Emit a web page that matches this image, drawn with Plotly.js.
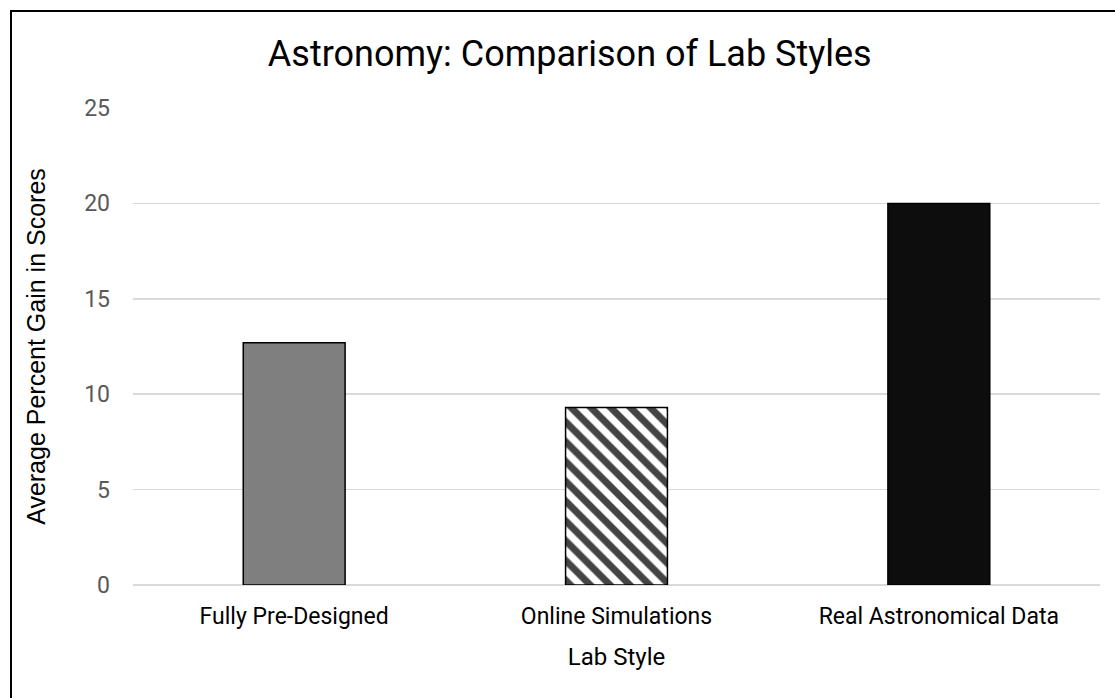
<!DOCTYPE html>
<html>
<head>
<meta charset="utf-8">
<script src="https://cdn.plot.ly/plotly-3.0.1.min.js"></script>
<style>
  html, body { margin: 0; padding: 0; background: #fff; overflow: hidden; }
  #wrap { position: relative; width: 1115px; height: 698px; }
  #chart { position: absolute; left: 0; top: 0; width: 1115px; height: 698px; }
  #frame { position: absolute; left: 10px; top: 10px; width: 1200px; height: 800px;
           border-left: 2px solid #000; border-top: 2px solid #000; pointer-events: none; }
</style>
</head>
<body>
<div id="wrap">
  <div id="chart"></div>
  <div id="frame"></div>
</div>
<script>
const categories = ["Fully Pre-Designed", "Online Simulations", "Real Astronomical Data"];
const gains = [12.7, 9.3, 20.0];
const yTickVals = [0, 5, 10, 15, 20, 25];

const trace = {
  type: "bar",
  x: categories,
  y: gains,
  marker: {
    color: ["#7f7f7f", "#ffffff", "#0d0d0d"],
    line: { color: "#000000", width: 1.5 },
    pattern: {
      shape: ["", "\\", ""],
      fgcolor: "#000000",
      fgopacity: 1,
      size: 14,
      solidity: 0.5,
      fillmode: "overlay"
    }
  },
  hoverinfo: "x+y"
};

const layout = {
  width: 1115,
  height: 698,
  margin: { l: 133, r: 15, t: 108, b: 113 },
  paper_bgcolor: "rgba(0,0,0,0)",
  plot_bgcolor: "#ffffff",
  showlegend: false,
  bargap: 0.684,
  title: {
    text: "Astronomy: Comparison of Lab Styles",
    font: { family: "Roboto, 'Liberation Sans', sans-serif", size: 36, color: "#000000" },
    x: 0.511, xref: "container", xanchor: "center",
    y: 0.924, yref: "container", yanchor: "middle"
  },
  xaxis: {
    type: "category",
    showgrid: false,
    showline: false,
    zeroline: false,
    ticks: "",
    ticklabelstandoff: 15,
    tickfont: { family: "Roboto, 'Liberation Sans', sans-serif", size: 23, color: "#000000" },
    title: {
      text: "Lab Style",
      font: { family: "Roboto, 'Liberation Sans', sans-serif", size: 24, color: "#000000" },
      standoff: 19
    }
  },
  yaxis: {
    range: [0, 25],
    tickvals: yTickVals,
    ticktext: yTickVals.map(String),
    showgrid: true,
    gridcolor: "#d9d9d9",
    gridwidth: 1.5,
    zeroline: true,
    zerolinecolor: "#d9d9d9",
    zerolinewidth: 1.5,
    showline: false,
    ticks: "",
    ticklabelstandoff: 22,
    tickfont: { family: "Roboto, 'Liberation Sans', sans-serif", size: 23, color: "#595959" },
    title: {
      text: "Average Percent Gain in Scores",
      font: { family: "'Liberation Sans', Arial, sans-serif", size: 25, color: "#000000" },
      standoff: 31
    }
  }
};

Plotly.newPlot("chart", [trace], layout, { displayModeBar: false, staticPlot: true });
</script>
</body>
</html>
